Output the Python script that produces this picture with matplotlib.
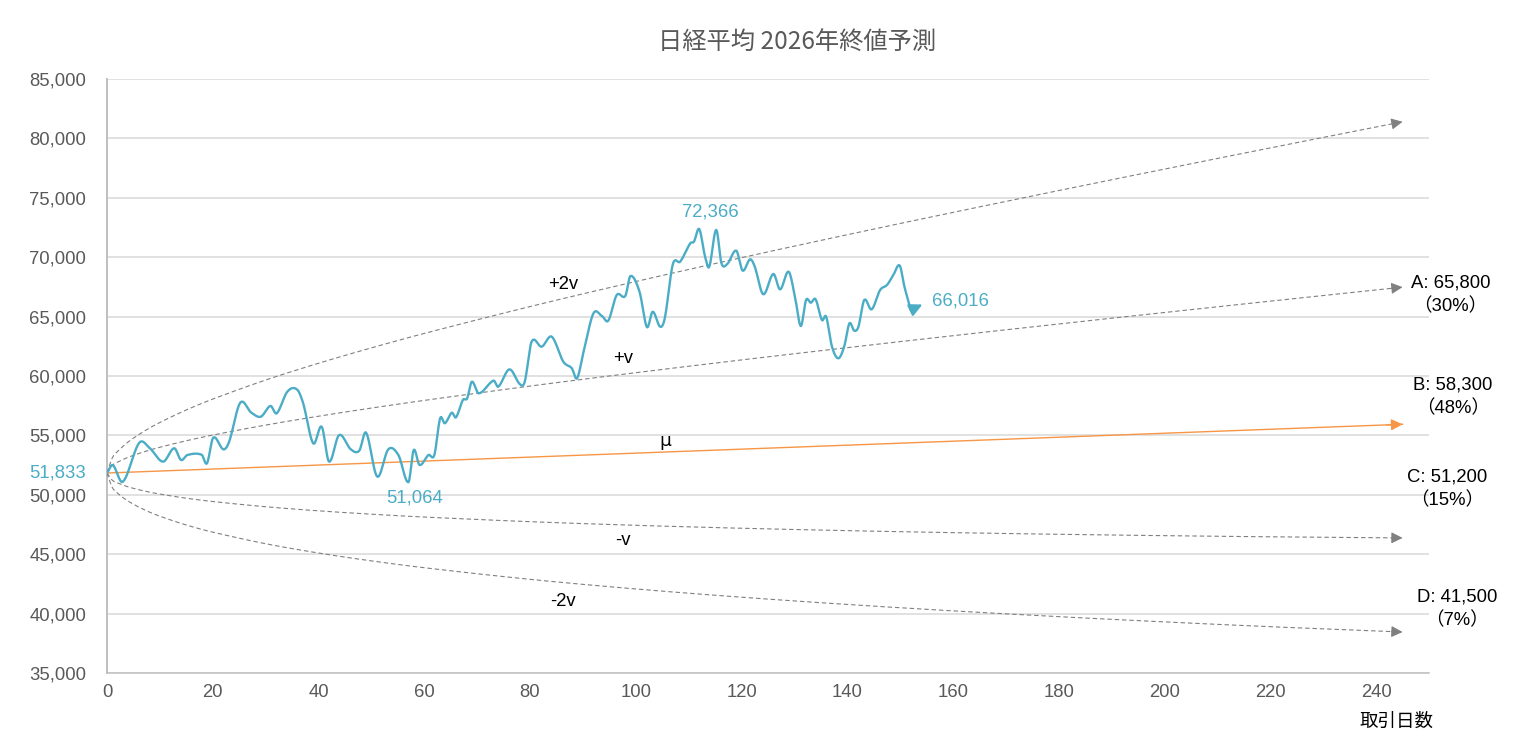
import numpy as np
import matplotlib
matplotlib.use("Agg")
import matplotlib.pyplot as plt

plt.rcParams['font.family'] = ['Liberation Sans', 'Noto Sans CJK JP', 'DejaVu Sans']

# ---------------- data ----------------
title = "日経平均 2026年終値予測"
x_label = "取引日数"

nikkei_days = [0, 1.1, 3, 6.1, 8.1, 10.6, 12.7, 14, 15.2, 17.9, 18.9, 20.1, 22, 23.1,
               25.2, 27.3, 29.1, 30.9, 32.1, 34.1, 35.9, 37.1, 39, 40.6, 42, 43.9,
               46.1, 47.7, 49, 51.1, 53.2, 55.1, 57, 58, 59.1, 60.8, 61.9, 63, 63.9,
               65.2, 66, 67.3, 68.1, 69, 70.3, 73.1, 74, 76.1, 78.1, 79, 80.3, 82.2,
               84.1, 86.3, 87.9, 88.9, 90.2, 92, 93.6, 94.8, 96.4, 98, 99, 100.7,
               102.1, 103.2, 104.6, 105.5, 107, 108.4, 110.3, 111, 112, 113.1, 113.9,
               115.2, 116.2, 117.3, 119, 120.2, 121.6, 122.5, 124.1, 126, 127.3,
               128.9, 130.1, 131.2, 132.2, 133.1, 134, 135.2, 136, 137.1, 138.3,
               139.4, 140.4, 141.3, 142.1, 143.2, 144.6, 146.2, 147.5, 148.7, 149.9,
               150.8, 152, 154.2]
nikkei_values = [51833, 52500, 51100, 54380, 53920, 52790, 53920, 52930, 53350, 53370,
                 52650, 54810, 53830, 54470, 57750, 56910, 56580, 57480, 56860, 58680,
                 58880, 57700, 54330, 55730, 52790, 55030, 53830, 53710, 55230, 51530,
                 53830, 53350, 51064, 53770, 52510, 53350, 53350, 56440, 56020, 56910,
                 56520, 57980, 58120, 59520, 58540, 59610, 59100, 60560, 59300, 59520,
                 62890, 62470, 63310, 61200, 60650, 59810, 62190, 65280, 65050, 64660,
                 66820, 66730, 68420, 67100, 64120, 65410, 64150, 64900, 69400, 69630,
                 71170, 71310, 72366, 70040, 69200, 72300, 69490, 69430, 70550, 68870,
                 69820, 69200, 66880, 68590, 67290, 68780, 66680, 64210, 66400, 66170,
                 66460, 64710, 64990, 62470, 61490, 62470, 64430, 63820, 64150, 66400,
                 65610, 67240, 67660, 68500, 69300, 67520, 65560, 66016]

band_days = [0, 1, 2, 4, 7, 10, 15, 20, 30, 40, 50, 60, 80, 100, 120, 140, 160,
             180, 200, 220, 245]
band_plus2v = [51833, 53107, 53654, 54446, 55347, 56089, 57142, 58058, 59660, 61073,
               62370, 63584, 65845, 67954, 69960, 71894, 73773, 75612, 77419, 79201, 81400]
band_plus1v = [51833, 52474, 52752, 53157, 53620, 54003, 54550, 55028, 55869, 56615,
               57302, 57947, 59152, 60279, 61353, 62388, 63395, 64380, 65348, 66302, 67480]
band_minus1v = [51833, 51231, 50994, 50668, 50325, 50061, 49713, 49434, 48994, 48651,
                48367, 48127, 47737, 47431, 47184, 46982, 46814, 46675, 46559, 46464, 46370]
band_minus2v = [51833, 50621, 50136, 49468, 48754, 48199, 47458, 46855, 45881, 45099,
                44437, 43860, 42884, 42074, 41379, 40770, 40229, 39742, 39300, 38897, 38450]
mu_days = [0, 245]
mu_values = [51833, 55935]

band_names = ["+2v", "+v", "-v", "-2v"]
band_label_pos = [(86.2, 67660), (97.6, 61515), (97.6, 46195), (86.2, 40978)]
mu_label_pos = (105.6, 54530)

scenario_labels = ["A: 65,800\n（30%）", "B: 58,300\n（48%）",
                   "C: 51,200\n（15%）", "D: 41,500\n（7%）"]
scenario_pos = [(254.1, 66860), (254.5, 58270), (253.5, 50490), (255.3, 40430)]

start_label = "51,833"
min_label, min_pos = "51,064", (58.1, 49730)
max_label, max_pos = "72,366", (114.0, 73800)
end_label, end_pos = "66,016", (161.3, 66300)

y_ticks = list(range(35000, 85001, 5000))
x_ticks = list(range(0, 241, 20))

# ---------------- colours / styles ----------------
BLUE = "#4BACC6"
ORANGE = "#F79646"
GREY = "#808080"
GRID = "#D9D9D9"
TXT = "#595959"
FS = 13.3


def smooth(xs, ys, n=12):
    """Cardinal-spline rendering of a polyline (like a spreadsheet's smoothed line)."""
    xs = np.asarray(xs, float)
    ys = np.asarray(ys, float)
    m = np.zeros_like(ys)
    m[1:-1] = (ys[2:] - ys[:-2]) / (xs[2:] - xs[:-2])
    m[0] = (ys[1] - ys[0]) / (xs[1] - xs[0])
    m[-1] = (ys[-1] - ys[-2]) / (xs[-1] - xs[-2])
    ox, oy = [], []
    for i in range(len(xs) - 1):
        h = xs[i + 1] - xs[i]
        t = np.linspace(0, 1, n, endpoint=False)
        h00 = 2 * t**3 - 3 * t**2 + 1
        h10 = t**3 - 2 * t**2 + t
        h01 = -2 * t**3 + 3 * t**2
        h11 = t**3 - t**2
        ox.extend(xs[i] + t * h)
        oy.extend(h00 * ys[i] + h10 * h * m[i] + h01 * ys[i + 1] + h11 * h * m[i + 1])
    ox.append(xs[-1])
    oy.append(ys[-1])
    return np.array(ox), np.array(oy)


fig = plt.figure(figsize=(15.16, 7.43), dpi=100)
ax = fig.add_axes([107 / 1516, 70 / 743, (1429 - 107) / 1516, (673 - 79) / 743])

ax.set_xlim(0, 250)
ax.set_ylim(35000, 85000)
ax.set_yticks(y_ticks)
ax.set_yticklabels([f"{v:,}" for v in y_ticks])
ax.set_xticks(x_ticks)
ax.grid(axis='y', color=GRID, lw=1.1)
ax.set_axisbelow(True)
for s in ['top', 'right']:
    ax.spines[s].set_visible(False)
ax.spines['left'].set_color("#BFBFBF")
ax.spines['left'].set_linewidth(1.4)
ax.spines['bottom'].set_color("#BFBFBF")
ax.spines['bottom'].set_linewidth(1.1)
ax.tick_params(axis='both', length=0, labelsize=FS, labelcolor=TXT)
ax.tick_params(axis='y', pad=15)
ax.tick_params(axis='x', pad=8)


def head(p0, p1, color, lw, ms=17):
    ax.annotate("", xy=p1, xytext=p0,
                arrowprops=dict(arrowstyle='-|>', color=color, lw=lw,
                                mutation_scale=ms, shrinkA=0, shrinkB=0), zorder=5)


# bands
for vals in [band_plus2v, band_plus1v, band_minus1v, band_minus2v]:
    sx, sy = smooth(band_days, vals)
    ax.plot(sx[:-1], sy[:-1], color=GREY, lw=0.8, dashes=(4, 2.6), zorder=3)
    head((sx[-2], sy[-2]), (sx[-1], sy[-1]), GREY, 0.8)

# mu
ax.plot(mu_days, mu_values, color=ORANGE, lw=1.0, zorder=3)
head((mu_days[-1] - 3, mu_values[-1] - (mu_values[-1] - mu_values[0]) * 3 / mu_days[-1]),
     (mu_days[-1], mu_values[-1]), ORANGE, 1.0)

# nikkei path (smoothed up to the second-last point, arrow to the last)
nx, ny = smooth(nikkei_days[:-1], nikkei_values[:-1])
ax.plot(nx, ny, color=BLUE, lw=1.7, zorder=4, solid_joinstyle='round', solid_capstyle='round')
head((nikkei_days[-2], nikkei_values[-2]), (nikkei_days[-1], nikkei_values[-1]), BLUE, 1.6, 19)

# band labels
for name, (bx, by) in zip(band_names, band_label_pos):
    ax.text(bx, by, name, ha='center', va='center', fontsize=FS, color='black')
ax.text(mu_label_pos[0], mu_label_pos[1], "μ", ha='center', va='center', fontsize=FS,
        color='black', family=['DejaVu Sans'])

# scenario labels
for lab, (sxp, syp) in zip(scenario_labels, scenario_pos):
    ax.text(sxp, syp, lab, ha='center', va='center', fontsize=FS, color='black',
            linespacing=1.45, clip_on=False)

# value labels
ax.text(*min_pos, min_label, ha='center', va='center', fontsize=FS, color=BLUE)
ax.text(*max_pos, max_label, ha='center', va='center', fontsize=FS, color=BLUE)
ax.text(*end_pos, end_label, ha='center', va='center', fontsize=FS, color=BLUE)
ax.annotate(start_label, xy=(0, nikkei_values[0]), xycoords=('axes fraction', 'data'),
            xytext=(-15, 0), textcoords='offset points', ha='right', va='center',
            fontsize=FS, color=BLUE)

fig.text(797 / 1516, 1 - 42 / 743, title, ha='center', va='center', fontsize=17.5,
         color=TXT, family=['Noto Sans CJK JP'])
fig.text(1397 / 1516, 1 - 722 / 743, x_label, ha='center', va='center', fontsize=13.3,
         color='black', family=['Noto Sans CJK JP'])

fig.savefig("out.png", dpi=100, facecolor='white')
